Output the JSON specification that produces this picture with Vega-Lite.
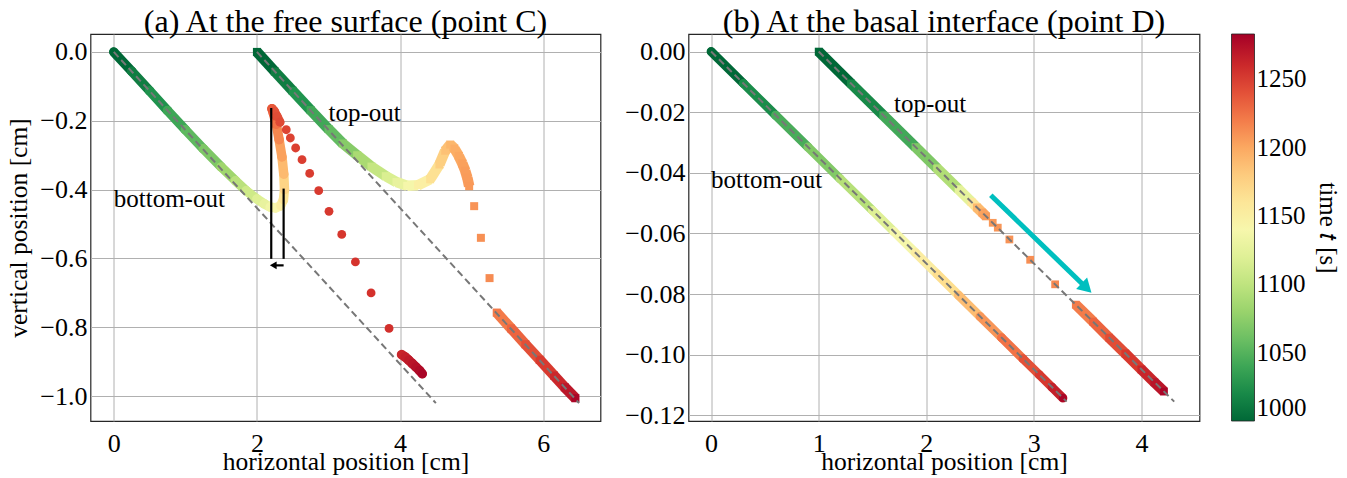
{
  "$schema": "https://vega.github.io/schema/vega-lite/v6.json",
  "background": "white",
  "padding": {"left": 5.5, "top": 5, "right": 5, "bottom": 0},
  "bounds": "flush",
  "spacing": 88,
  "config": {
    "font": "Liberation Serif",
    "view": {"stroke": "#262626", "strokeWidth": 1.2},
    "axis": {
      "labelFont": "Liberation Serif", "labelFontSize": 26, "labelColor": "#000",
      "titleFont": "Liberation Serif", "titleFontSize": 25.5, "titleFontWeight": "normal", "titleColor": "#000",
      "gridColor": "#b0b0b0", "gridWidth": 1, "gridOpacity": 1,
      "ticks": false, "tickSize": 0, "domain": false, "labelFlush": false, "labelOverlap": false
    },
    "axisX": {"labelPadding": 9, "titleBaseline": "alphabetic", "titleY": 48},
    "axisY": {"labelPadding": 3.5, "titleBaseline": "alphabetic", "titleX": -63.7},
    "title": {"font": "Liberation Serif", "fontSize": 32, "fontWeight": "normal", "color": "#000", "baseline": "alphabetic", "offset": -5, "anchor": "middle"},
    "legend": {
      "orient": "right", "offset": 31, "padding": 0,
      "gradientLength": 387, "gradientThickness": 23,
      "gradientStrokeColor": "#222", "gradientStrokeWidth": 0.8,
      "labelFont": "Liberation Serif", "labelFontSize": 25, "labelColor": "#000",
      "labelOffset": 7, "labelBaseline": "middle", "labelOverlap": false,
      "titleFont": "Liberation Serif", "titleFontSize": 25, "titleFontWeight": "normal", "titleColor": "#000",
      "titleOrient": "right", "titleAnchor": "middle", "titlePadding": 8
    }
  },
  "datasets": {
    "traj": [
      {"p":"a","s":"bottom","run":"a1","i":1,"x":0,"y":0,"t":1000},
      {"p":"a","s":"bottom","run":"a1","i":2,"x":0.25,"y":-0.056,"t":1013},
      {"p":"a","s":"bottom","run":"a1","i":3,"x":0.5,"y":-0.113,"t":1026},
      {"p":"a","s":"bottom","run":"a1","i":4,"x":0.75,"y":-0.17,"t":1040},
      {"p":"a","s":"bottom","run":"a1","i":5,"x":1.0,"y":-0.226,"t":1054},
      {"p":"a","s":"bottom","run":"a1","i":6,"x":1.25,"y":-0.281,"t":1068},
      {"p":"a","s":"bottom","run":"a1","i":7,"x":1.5,"y":-0.334,"t":1083},
      {"p":"a","s":"bottom","run":"a1","i":8,"x":1.7,"y":-0.374,"t":1097},
      {"p":"a","s":"bottom","run":"a1","i":9,"x":1.85,"y":-0.403,"t":1108},
      {"p":"a","s":"bottom","run":"a1","i":10,"x":2.0,"y":-0.427,"t":1119},
      {"p":"a","s":"bottom","run":"a1","i":11,"x":2.1,"y":-0.441,"t":1127},
      {"p":"a","s":"bottom","run":"a1","i":12,"x":2.18,"y":-0.45,"t":1135},
      {"p":"a","s":"bottom","run":"a1","i":13,"x":2.26,"y":-0.453,"t":1143},
      {"p":"a","s":"bottom","run":"a1","i":14,"x":2.33,"y":-0.447,"t":1152},
      {"p":"a","s":"bottom","run":"a1","i":15,"x":2.37,"y":-0.43,"t":1162},
      {"p":"a","s":"bottom","run":"a1","i":16,"x":2.385,"y":-0.4,"t":1175},
      {"p":"a","s":"bottom","run":"a1","i":17,"x":2.375,"y":-0.355,"t":1190},
      {"p":"a","s":"bottom","run":"a1","i":18,"x":2.35,"y":-0.305,"t":1203},
      {"p":"a","s":"bottom","run":"a1","i":19,"x":2.31,"y":-0.255,"t":1215},
      {"p":"a","s":"bottom","run":"a1","i":20,"x":2.27,"y":-0.21,"t":1225},
      {"p":"a","s":"bottom","run":"a1","i":21,"x":2.23,"y":-0.178,"t":1233},
      {"p":"a","s":"bottom","run":"a1","i":22,"x":2.21,"y":-0.165,"t":1237},
      {"p":"a","s":"bottom","run":"a1","i":23,"x":2.24,"y":-0.172,"t":1240},
      {"p":"a","s":"bottom","run":"a1","i":24,"x":2.28,"y":-0.188,"t":1242},
      {"p":"a","s":"bottom","run":"a1","i":25,"x":2.32,"y":-0.204,"t":1244},
      {"p":"a","s":"bottom","run":"","i":26,"x":2.41,"y":-0.226,"t":1246},
      {"p":"a","s":"bottom","run":"","i":27,"x":2.467,"y":-0.25,"t":1247},
      {"p":"a","s":"bottom","run":"","i":28,"x":2.541,"y":-0.279,"t":1248},
      {"p":"a","s":"bottom","run":"","i":29,"x":2.63,"y":-0.313,"t":1249},
      {"p":"a","s":"bottom","run":"","i":30,"x":2.737,"y":-0.353,"t":1250},
      {"p":"a","s":"bottom","run":"","i":31,"x":2.863,"y":-0.403,"t":1251},
      {"p":"a","s":"bottom","run":"","i":32,"x":3.007,"y":-0.463,"t":1252},
      {"p":"a","s":"bottom","run":"","i":33,"x":3.185,"y":-0.53,"t":1253},
      {"p":"a","s":"bottom","run":"","i":34,"x":3.376,"y":-0.61,"t":1254},
      {"p":"a","s":"bottom","run":"","i":35,"x":3.595,"y":-0.7,"t":1255},
      {"p":"a","s":"bottom","run":"","i":36,"x":3.846,"y":-0.803,"t":1256},
      {"p":"a","s":"bottom","run":"a2","i":37,"x":4.02,"y":-0.879,"t":1262},
      {"p":"a","s":"bottom","run":"a2","i":38,"x":4.07,"y":-0.886,"t":1265},
      {"p":"a","s":"bottom","run":"a2","i":39,"x":4.12,"y":-0.895,"t":1268},
      {"p":"a","s":"bottom","run":"a2","i":40,"x":4.17,"y":-0.905,"t":1271},
      {"p":"a","s":"bottom","run":"a2","i":41,"x":4.22,"y":-0.915,"t":1274},
      {"p":"a","s":"bottom","run":"a2","i":42,"x":4.27,"y":-0.925,"t":1277},
      {"p":"a","s":"bottom","run":"a2","i":43,"x":4.31,"y":-0.935,"t":1280},

      {"p":"a","s":"top","run":"a3","i":1,"x":2.0,"y":0,"t":1000},
      {"p":"a","s":"top","run":"a3","i":2,"x":2.25,"y":-0.057,"t":1013},
      {"p":"a","s":"top","run":"a3","i":3,"x":2.5,"y":-0.113,"t":1027},
      {"p":"a","s":"top","run":"a3","i":4,"x":2.75,"y":-0.169,"t":1041},
      {"p":"a","s":"top","run":"a3","i":5,"x":3.0,"y":-0.224,"t":1056},
      {"p":"a","s":"top","run":"a3","i":6,"x":3.2,"y":-0.266,"t":1072},
      {"p":"a","s":"top","run":"a3","i":7,"x":3.4,"y":-0.3,"t":1088},
      {"p":"a","s":"top","run":"a3","i":8,"x":3.6,"y":-0.333,"t":1103},
      {"p":"a","s":"top","run":"a3","i":9,"x":3.8,"y":-0.361,"t":1116},
      {"p":"a","s":"top","run":"a3","i":10,"x":3.95,"y":-0.378,"t":1127},
      {"p":"a","s":"top","run":"a3","i":11,"x":4.1,"y":-0.389,"t":1138},
      {"p":"a","s":"top","run":"a3","i":12,"x":4.25,"y":-0.387,"t":1150},
      {"p":"a","s":"top","run":"a3","i":13,"x":4.42,"y":-0.37,"t":1165},
      {"p":"a","s":"top","run":"a3","i":14,"x":4.55,"y":-0.327,"t":1178},
      {"p":"a","s":"top","run":"a3","i":15,"x":4.63,"y":-0.287,"t":1186},
      {"p":"a","s":"top","run":"a3","i":16,"x":4.7,"y":-0.269,"t":1192},
      {"p":"a","s":"top","run":"a3","i":17,"x":4.76,"y":-0.281,"t":1197},
      {"p":"a","s":"top","run":"a3","i":18,"x":4.82,"y":-0.302,"t":1200},
      {"p":"a","s":"top","run":"a3","i":19,"x":4.87,"y":-0.324,"t":1203},
      {"p":"a","s":"top","run":"a3","i":20,"x":4.91,"y":-0.345,"t":1205},
      {"p":"a","s":"top","run":"a3","i":21,"x":4.94,"y":-0.366,"t":1206},
      {"p":"a","s":"top","run":"a3","i":22,"x":4.965,"y":-0.39,"t":1207},
      {"p":"a","s":"top","run":"","i":23,"x":5.035,"y":-0.448,"t":1209},
      {"p":"a","s":"top","run":"","i":24,"x":5.129,"y":-0.54,"t":1211},
      {"p":"a","s":"top","run":"","i":25,"x":5.25,"y":-0.657,"t":1213},
      {"p":"a","s":"top","run":"a4","i":26,"x":5.35,"y":-0.757,"t":1221},
      {"p":"a","s":"top","run":"a4","i":27,"x":5.55,"y":-0.803,"t":1231},
      {"p":"a","s":"top","run":"a4","i":28,"x":5.75,"y":-0.849,"t":1241},
      {"p":"a","s":"top","run":"a4","i":29,"x":5.95,"y":-0.894,"t":1251},
      {"p":"a","s":"top","run":"a4","i":30,"x":6.15,"y":-0.94,"t":1261},
      {"p":"a","s":"top","run":"a4","i":31,"x":6.3,"y":-0.974,"t":1270},
      {"p":"a","s":"top","run":"a4","i":32,"x":6.45,"y":-1.006,"t":1280},

      {"p":"b","s":"bottom","run":"b1","i":1,"x":0,"y":0,"t":1000},
      {"p":"b","s":"bottom","run":"b1","i":2,"x":0.3,"y":-0.0105,"t":1022},
      {"p":"b","s":"bottom","run":"b1","i":3,"x":0.6,"y":-0.021,"t":1045},
      {"p":"b","s":"bottom","run":"b1","i":4,"x":0.9,"y":-0.0315,"t":1070},
      {"p":"b","s":"bottom","run":"b1","i":5,"x":1.2,"y":-0.042,"t":1095},
      {"p":"b","s":"bottom","run":"b1","i":6,"x":1.5,"y":-0.0524,"t":1120},
      {"p":"b","s":"bottom","run":"b1","i":7,"x":1.7,"y":-0.0594,"t":1138},
      {"p":"b","s":"bottom","run":"b1","i":8,"x":1.9,"y":-0.0664,"t":1153},
      {"p":"b","s":"bottom","run":"b1","i":9,"x":2.1,"y":-0.0734,"t":1168},
      {"p":"b","s":"bottom","run":"b1","i":10,"x":2.3,"y":-0.0804,"t":1188},
      {"p":"b","s":"bottom","run":"b1","i":11,"x":2.5,"y":-0.0874,"t":1208},
      {"p":"b","s":"bottom","run":"b1","i":12,"x":2.7,"y":-0.0944,"t":1224},
      {"p":"b","s":"bottom","run":"b1","i":13,"x":2.9,"y":-0.1014,"t":1240},
      {"p":"b","s":"bottom","run":"b1","i":14,"x":3.05,"y":-0.1066,"t":1252},
      {"p":"b","s":"bottom","run":"b1","i":15,"x":3.17,"y":-0.1108,"t":1265},
      {"p":"b","s":"bottom","run":"b1","i":16,"x":3.27,"y":-0.1143,"t":1280},

      {"p":"b","s":"top","run":"b2","i":1,"x":1.0,"y":0,"t":1000},
      {"p":"b","s":"top","run":"b2","i":2,"x":1.3,"y":-0.0105,"t":1020},
      {"p":"b","s":"top","run":"b2","i":3,"x":1.6,"y":-0.021,"t":1042},
      {"p":"b","s":"top","run":"b2","i":4,"x":1.9,"y":-0.0315,"t":1068},
      {"p":"b","s":"top","run":"b2","i":5,"x":2.1,"y":-0.0385,"t":1092},
      {"p":"b","s":"top","run":"b2","i":6,"x":2.3,"y":-0.0454,"t":1125},
      {"p":"b","s":"top","run":"b2","i":7,"x":2.42,"y":-0.0496,"t":1160},
      {"p":"b","s":"top","run":"b2","i":8,"x":2.47,"y":-0.0514,"t":1190},
      {"p":"b","s":"top","run":"b2","i":9,"x":2.52,"y":-0.0531,"t":1202},
      {"p":"b","s":"top","run":"b2","i":10,"x":2.557,"y":-0.0544,"t":1205},
      {"p":"b","s":"top","run":"","i":11,"x":2.618,"y":-0.0565,"t":1207},
      {"p":"b","s":"top","run":"","i":12,"x":2.665,"y":-0.0581,"t":1208},
      {"p":"b","s":"top","run":"","i":13,"x":2.773,"y":-0.062,"t":1210},
      {"p":"b","s":"top","run":"","i":14,"x":2.966,"y":-0.0687,"t":1212},
      {"p":"b","s":"top","run":"","i":15,"x":3.198,"y":-0.0768,"t":1214},
      {"p":"b","s":"top","run":"b3","i":16,"x":3.39,"y":-0.0835,"t":1220},
      {"p":"b","s":"top","run":"b3","i":17,"x":3.55,"y":-0.0891,"t":1231},
      {"p":"b","s":"top","run":"b3","i":18,"x":3.7,"y":-0.0944,"t":1242},
      {"p":"b","s":"top","run":"b3","i":19,"x":3.85,"y":-0.0996,"t":1252},
      {"p":"b","s":"top","run":"b3","i":20,"x":4.0,"y":-0.1049,"t":1262},
      {"p":"b","s":"top","run":"b3","i":21,"x":4.12,"y":-0.1091,"t":1271},
      {"p":"b","s":"top","run":"b3","i":22,"x":4.21,"y":-0.1122,"t":1280}
    ],
    "guides": [
      {"p":"a","id":"g1","x":0,"y":0},{"p":"a","id":"g1","x":4.5,"y":-1.02},
      {"p":"a","id":"g2","x":2,"y":0},{"p":"a","id":"g2","x":6.5,"y":-1.02},
      {"p":"b","id":"g3","x":0,"y":0},{"p":"b","id":"g3","x":3.305,"y":-0.1155},
      {"p":"b","id":"g4","x":1,"y":0},{"p":"b","id":"g4","x":4.305,"y":-0.1155}
    ],
    "notes": [
      {"p":"a","x":3.0,"y":-0.2,"label":"top-out"},
      {"p":"a","x":0.0,"y":-0.45,"label":"bottom-out"},
      {"p":"b","x":1.7,"y":-0.02,"label":"top-out"},
      {"p":"b","x":0.0,"y":-0.045,"label":"bottom-out"}
    ],
    "segs": [
      {"p":"a","x":2.2,"y":-0.163,"x2":2.2,"y2":-0.601},
      {"p":"a","x":2.373,"y":-0.397,"x2":2.373,"y2":-0.601},
      {"p":"a","x":2.373,"y":-0.62,"x2":2.23,"y2":-0.62},
      {"p":"b","x":2.6,"y":-0.0474,"x2":3.49,"y2":-0.078}
    ],
    "heads": [
      {"p":"a","x":2.228,"y":-0.62},
      {"p":"b","x":3.49,"y":-0.078}
    ]
  },
  "hconcat": [
    {
      "width": 510, "height": 387,
      "title": {"text": "(a) At the free surface (point C)"},
      "encoding": {
        "x": {"field": "x", "type": "quantitative", "scale": {"domain": [-0.325, 6.8], "nice": false, "zero": false},
              "axis": {"values": [0, 2, 4, 6], "format": "d", "title": "horizontal position [cm]"}},
        "y": {"field": "y", "type": "quantitative", "scale": {"domain": [-1.072, 0.052], "nice": false, "zero": false},
              "axis": {"values": [0, -0.2, -0.4, -0.6, -0.8, -1.0], "format": ".1f", "title": "vertical position [cm]"}}
      },
      "layer": [
        {
          "data": {"name": "traj"},
          "transform": [
            {"filter": "datum.p === 'a' && datum.s === 'bottom' && datum.run !== ''"},
            {"window": [{"op": "lead", "field": "x", "as": "x2"}, {"op": "lead", "field": "y", "as": "y2"}], "groupby": ["run"], "sort": [{"field": "i", "order": "ascending"}]},
            {"filter": "datum.x2 != null"}
          ],
          "mark": {"type": "rule", "strokeWidth": 9.5, "strokeCap": "round"},
          "encoding": {
            "x2": {"field": "x2"}, "y2": {"field": "y2"},
            "stroke": {"field": "t", "type": "quantitative", "scale": {"scheme": "redyellowgreen", "reverse": true, "domain": [1000, 1283.001], "nice": false, "zero": false}, "legend": null}
          }
        },
        {
          "data": {"name": "traj"},
          "transform": [
            {"filter": "datum.p === 'a' && datum.s === 'top' && datum.run !== ''"},
            {"window": [{"op": "lead", "field": "x", "as": "x2"}, {"op": "lead", "field": "y", "as": "y2"}], "groupby": ["run"], "sort": [{"field": "i", "order": "ascending"}]},
            {"filter": "datum.x2 != null"}
          ],
          "mark": {"type": "rule", "strokeWidth": 10.5, "strokeCap": "butt"},
          "encoding": {
            "x2": {"field": "x2"}, "y2": {"field": "y2"},
            "stroke": {"field": "t", "type": "quantitative", "scale": {"scheme": "redyellowgreen", "reverse": true, "domain": [1000, 1283.001], "nice": false, "zero": false}, "legend": null}
          }
        },
        {
          "data": {"name": "traj"},
          "transform": [{"filter": "datum.p === 'a' && datum.s === 'bottom'"}],
          "mark": {"type": "point", "shape": "circle", "filled": true, "size": 78, "opacity": 1, "strokeWidth": 0},
          "encoding": {
            "fill": {"field": "t", "type": "quantitative", "scale": {"scheme": "redyellowgreen", "reverse": true, "domain": [1000, 1283], "nice": false, "zero": false},
                     "legend": {"title": "time 𝑡 [s]", "format": "d", "values": [1000, 1050, 1100, 1150, 1200, 1250], "direction": "vertical",
                                "encode": {"title": {"angle": {"value": -90}, "baseline": {"value": "top"}}}}}
          }
        },
        {
          "data": {"name": "traj"},
          "transform": [{"filter": "datum.p === 'a' && datum.s === 'top'"}],
          "mark": {"type": "point", "shape": "square", "filled": true, "size": 64, "opacity": 1, "strokeWidth": 0},
          "encoding": {
            "fill": {"field": "t", "type": "quantitative", "scale": {"scheme": "redyellowgreen", "reverse": true, "domain": [1000, 1283], "nice": false, "zero": false}}
          }
        },
        {
          "data": {"name": "guides"},
          "transform": [{"filter": "datum.p === 'a'"}],
          "mark": {"type": "line", "strokeDash": [7, 4], "color": "#777777", "strokeWidth": 2},
          "encoding": {"detail": {"field": "id"}}
        },
        {
          "data": {"name": "notes"},
          "transform": [{"filter": "datum.p === 'a'"}],
          "mark": {"type": "text", "align": "left", "baseline": "alphabetic", "font": "Liberation Serif", "fontSize": 25, "color": "#000"},
          "encoding": {"text": {"field": "label"}}
        },
        {
          "data": {"name": "segs"},
          "transform": [{"filter": "datum.p === 'a'"}],
          "mark": {"type": "rule", "color": "#000", "strokeWidth": 2.2},
          "encoding": {"x2": {"field": "x2"}, "y2": {"field": "y2"}}
        },
        {
          "data": {"name": "heads"},
          "transform": [{"filter": "datum.p === 'a'"}],
          "mark": {"type": "point", "shape": "triangle-left", "filled": true, "color": "#000", "size": 60, "opacity": 1, "strokeWidth": 0}
        }
      ]
    },
    {
      "width": 511, "height": 387,
      "title": {"text": "(b) At the basal interface (point D)"},
      "encoding": {
        "x": {"field": "x", "type": "quantitative", "scale": {"domain": [-0.21, 4.54], "nice": false, "zero": false},
              "axis": {"values": [0, 1, 2, 3, 4], "format": "d", "title": "horizontal position [cm]"}},
        "y": {"field": "y", "type": "quantitative", "scale": {"domain": [-0.1219, 0.0058], "nice": false, "zero": false},
              "axis": {"values": [0, -0.02, -0.04, -0.06, -0.08, -0.1, -0.12], "format": ".2f", "title": null}}
      },
      "layer": [
        {
          "data": {"name": "traj"},
          "transform": [
            {"filter": "datum.p === 'b' && datum.s === 'bottom' && datum.run !== ''"},
            {"window": [{"op": "lead", "field": "x", "as": "x2"}, {"op": "lead", "field": "y", "as": "y2"}], "groupby": ["run"], "sort": [{"field": "i", "order": "ascending"}]},
            {"filter": "datum.x2 != null"}
          ],
          "mark": {"type": "rule", "strokeWidth": 9, "strokeCap": "round"},
          "encoding": {
            "x2": {"field": "x2"}, "y2": {"field": "y2"},
            "stroke": {"field": "t", "type": "quantitative", "scale": {"scheme": "redyellowgreen", "reverse": true, "domain": [1000, 1283.001], "nice": false, "zero": false}, "legend": null}
          }
        },
        {
          "data": {"name": "traj"},
          "transform": [
            {"filter": "datum.p === 'b' && datum.s === 'top' && datum.run !== ''"},
            {"window": [{"op": "lead", "field": "x", "as": "x2"}, {"op": "lead", "field": "y", "as": "y2"}], "groupby": ["run"], "sort": [{"field": "i", "order": "ascending"}]},
            {"filter": "datum.x2 != null"}
          ],
          "mark": {"type": "rule", "strokeWidth": 10.5, "strokeCap": "butt"},
          "encoding": {
            "x2": {"field": "x2"}, "y2": {"field": "y2"},
            "stroke": {"field": "t", "type": "quantitative", "scale": {"scheme": "redyellowgreen", "reverse": true, "domain": [1000, 1283.001], "nice": false, "zero": false}, "legend": null}
          }
        },
        {
          "data": {"name": "traj"},
          "transform": [{"filter": "datum.p === 'b' && datum.s === 'bottom'"}],
          "mark": {"type": "point", "shape": "circle", "filled": true, "size": 64, "opacity": 1, "strokeWidth": 0},
          "encoding": {
            "fill": {"field": "t", "type": "quantitative", "scale": {"scheme": "redyellowgreen", "reverse": true, "domain": [1000, 1283], "nice": false, "zero": false}}
          }
        },
        {
          "data": {"name": "traj"},
          "transform": [{"filter": "datum.p === 'b' && datum.s === 'top'"}],
          "mark": {"type": "point", "shape": "square", "filled": true, "size": 60, "opacity": 1, "strokeWidth": 0},
          "encoding": {
            "fill": {"field": "t", "type": "quantitative", "scale": {"scheme": "redyellowgreen", "reverse": true, "domain": [1000, 1283], "nice": false, "zero": false}}
          }
        },
        {
          "data": {"name": "guides"},
          "transform": [{"filter": "datum.p === 'b'"}],
          "mark": {"type": "line", "strokeDash": [7, 4], "color": "#777777", "strokeWidth": 2},
          "encoding": {"detail": {"field": "id"}}
        },
        {
          "data": {"name": "notes"},
          "transform": [{"filter": "datum.p === 'b'"}],
          "mark": {"type": "text", "align": "left", "baseline": "alphabetic", "font": "Liberation Serif", "fontSize": 25, "color": "#000"},
          "encoding": {"text": {"field": "label"}}
        },
        {
          "data": {"name": "segs"},
          "transform": [{"filter": "datum.p === 'b'"}],
          "mark": {"type": "rule", "color": "#00bfbf", "strokeWidth": 5},
          "encoding": {"x2": {"field": "x2"}, "y2": {"field": "y2"}}
        },
        {
          "data": {"name": "heads"},
          "transform": [{"filter": "datum.p === 'b'"}],
          "mark": {"type": "point", "shape": "triangle-right", "angle": 44, "filled": true, "color": "#00bfbf", "size": 250, "opacity": 1, "strokeWidth": 0}
        }
      ]
    }
  ]
}
